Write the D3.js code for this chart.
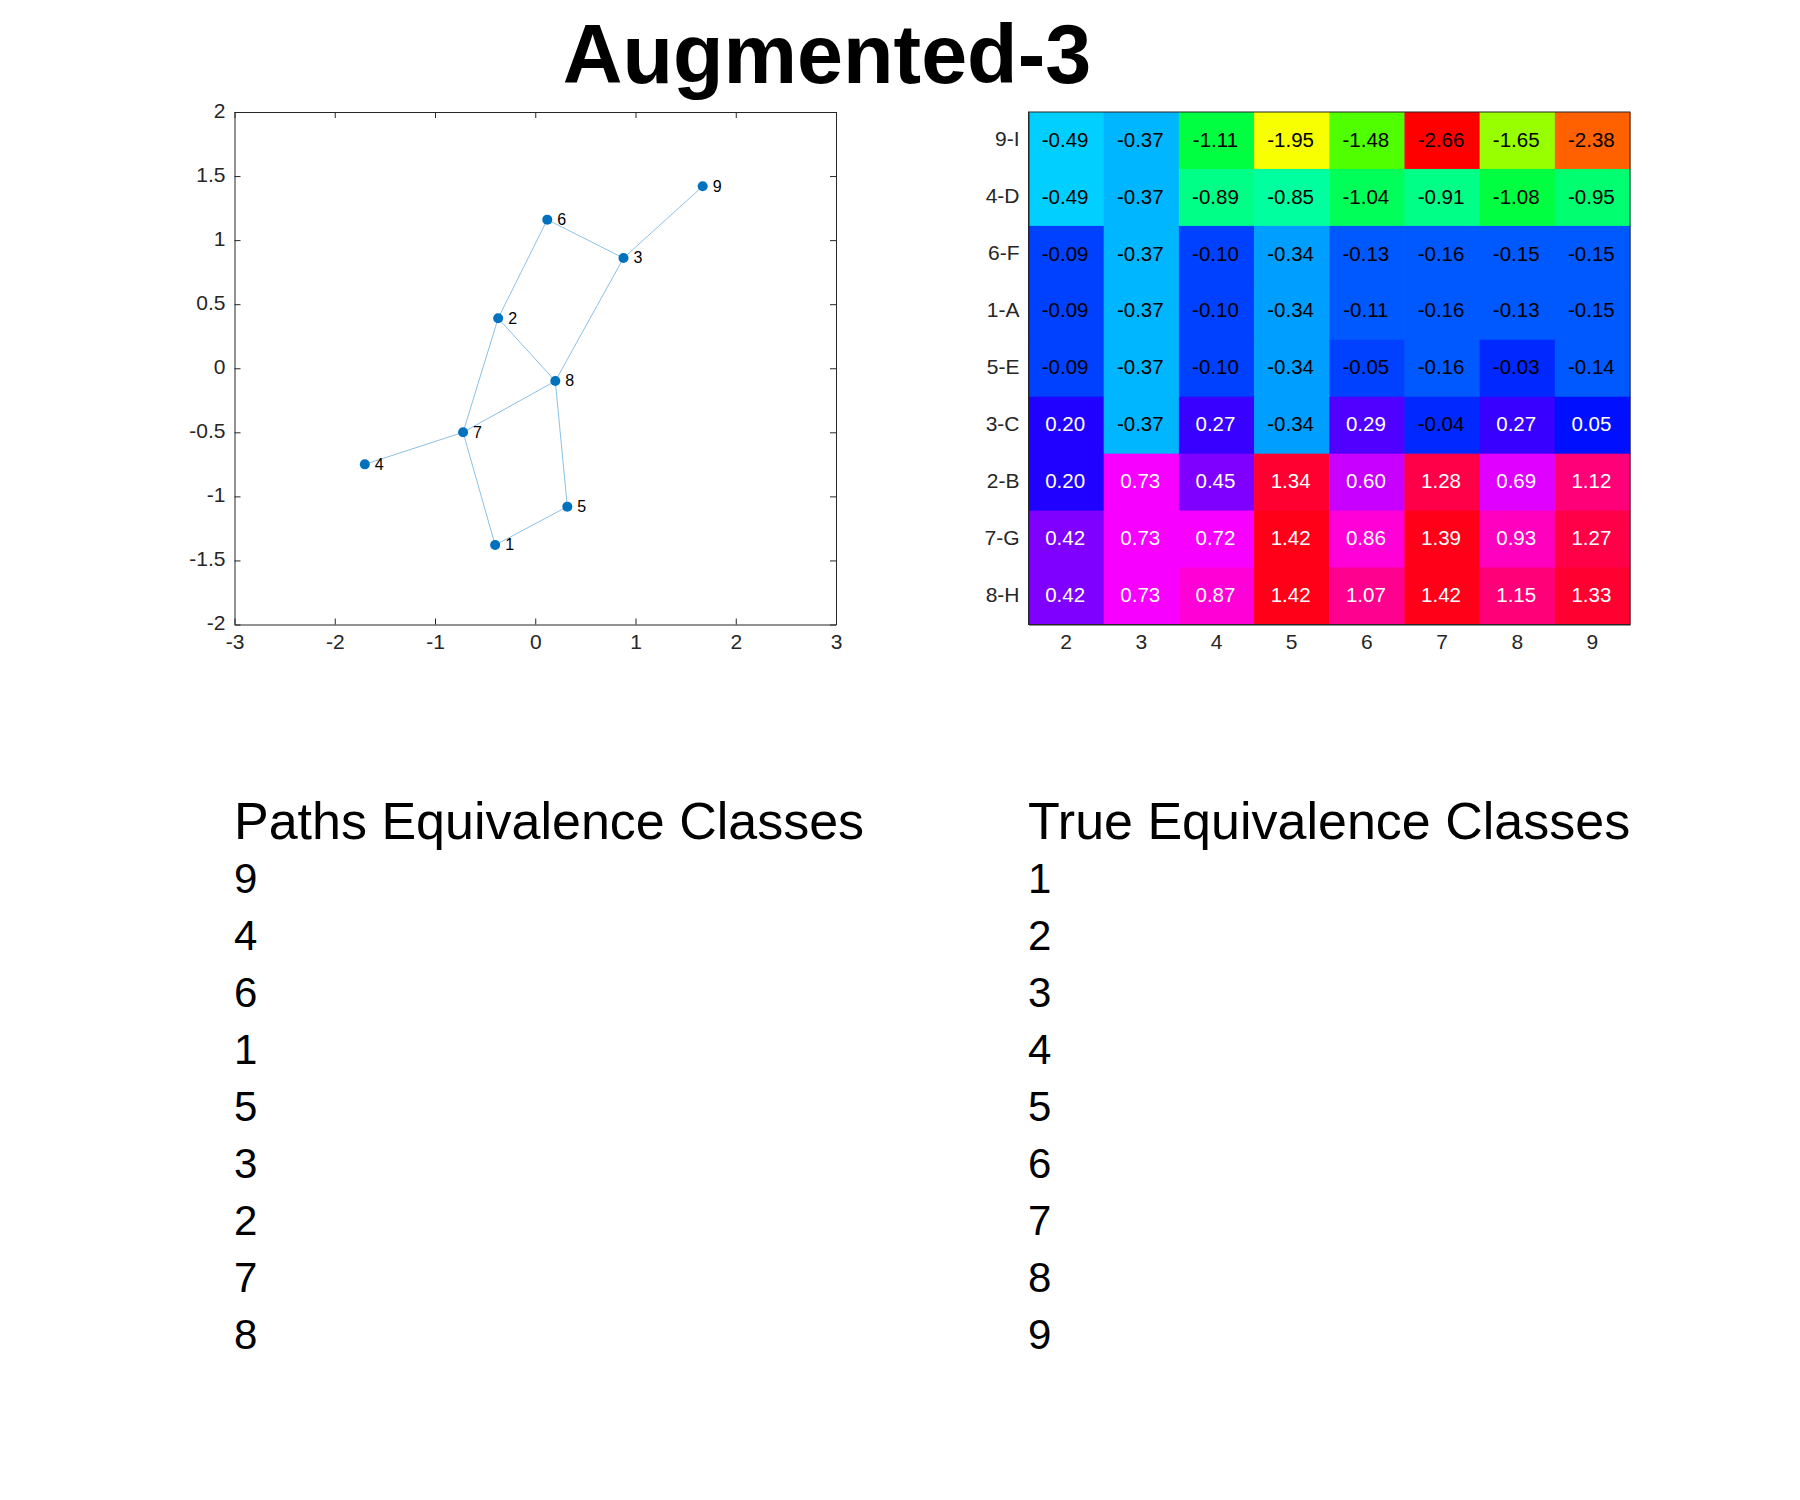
<!DOCTYPE html>
<html>
<head>
    <meta charset="utf-8">
    <title>Augmented-3</title>
    <script src="https://d3js.org/d3.v7.min.js"></script>
    <style>
        body { margin: 0; background: #fff; }
        text { font-family: "Liberation Sans", sans-serif; }
        .axis line, .axis path { stroke: #262626; stroke-width: 1; }
    </style>
</head>
<body>
    <div id="chart"></div>
    <script>
        // graph data
        const nodeIds = [1, 2, 3, 4, 5, 6, 7, 8, 9];
        const nodeX = [-0.40, -0.37, 0.88, -1.70, 0.32, 0.12, -0.72, 0.20, 1.67];
        const nodeY = [-1.38, 0.39, 0.86, -0.75, -1.08, 1.16, -0.50, -0.10, 1.42];
        const edges = [[1, 5], [1, 7], [2, 6], [2, 7], [2, 8], [3, 6], [3, 8], [3, 9], [4, 7], [5, 8], [7, 8]];
        const xTicks = [-3, -2, -1, 0, 1, 2, 3];
        const yTicks = [-2, -1.5, -1, -0.5, 0, 0.5, 1, 1.5, 2];

        // heatmap data
        const columns = [2, 3, 4, 5, 6, 7, 8, 9];
        const rows = ["9-I", "4-D", "6-F", "1-A", "5-E", "3-C", "2-B", "7-G", "8-H"];
        const cells = [
            [-0.49, -0.37, -1.11, -1.95, -1.48, -2.66, -1.65, -2.38],
            [-0.49, -0.37, -0.89, -0.85, -1.04, -0.91, -1.08, -0.95],
            [-0.09, -0.37, -0.10, -0.34, -0.13, -0.16, -0.15, -0.15],
            [-0.09, -0.37, -0.10, -0.34, -0.11, -0.16, -0.13, -0.15],
            [-0.09, -0.37, -0.10, -0.34, -0.05, -0.16, -0.03, -0.14],
            [0.20, -0.37, 0.27, -0.34, 0.29, -0.04, 0.27, 0.05],
            [0.20, 0.73, 0.45, 1.34, 0.60, 1.28, 0.69, 1.12],
            [0.42, 0.73, 0.72, 1.42, 0.86, 1.39, 0.93, 1.27],
            [0.42, 0.73, 0.87, 1.42, 1.07, 1.42, 1.15, 1.33]
        ];

        // lists under the plots
        const pathClasses = [9, 4, 6, 1, 5, 3, 2, 7, 8];
        const trueClasses = [1, 2, 3, 4, 5, 6, 7, 8, 9];

        const svg = d3.select("#chart").append("svg")
            .attr("width", 1800)
            .attr("height", 1500);

        svg.append("text")
            .attr("x", 827)
            .attr("y", 83)
            .attr("text-anchor", "middle")
            .attr("font-size", 82.7)
            .attr("font-weight", "bold")
            .text("Augmented-3");

        // Left plot
        const plot = { left: 234.5, right: 836, top: 112, bottom: 624.5 };
        const x = d3.scaleLinear().domain([-3, 3]).range([plot.left, plot.right]);
        const y = d3.scaleLinear().domain([-2, 2]).range([plot.bottom, plot.top]);

        function styleAxis(g) {
            g.attr("class", "axis");
            g.selectAll("text").attr("font-size", 21).attr("fill", "#262626");
        }

        svg.append("g").attr("transform", `translate(0,${plot.bottom})`)
            .call(d3.axisBottom(x).tickValues(xTicks).tickFormat(String).tickSize(-6).tickSizeOuter(0).tickPadding(10))
            .call(styleAxis);
        svg.append("g").attr("transform", `translate(${plot.left},0)`)
            .call(d3.axisLeft(y).tickValues(yTicks).tickFormat(String).tickSize(-6).tickSizeOuter(0).tickPadding(9))
            .call(styleAxis)
            .call(g => g.selectAll("text").attr("dy", "0.25em"));
        svg.append("g").attr("transform", `translate(0,${plot.top})`)
            .call(d3.axisTop(x).tickValues(xTicks).tickFormat("").tickSize(-6).tickSizeOuter(0))
            .call(styleAxis);
        svg.append("g").attr("transform", `translate(${plot.right},0)`)
            .call(d3.axisRight(y).tickValues(yTicks).tickFormat("").tickSize(-6).tickSizeOuter(0))
            .call(styleAxis);

        svg.append("g").selectAll("line")
            .data(edges)
            .join("line")
            .attr("x1", d => x(nodeX[d[0] - 1]))
            .attr("y1", d => y(nodeY[d[0] - 1]))
            .attr("x2", d => x(nodeX[d[1] - 1]))
            .attr("y2", d => y(nodeY[d[1] - 1]))
            .attr("stroke", "#8cc1e6")
            .attr("stroke-width", 1);

        const node = svg.append("g").selectAll("g")
            .data(nodeIds)
            .join("g")
            .attr("transform", (d, i) => `translate(${x(nodeX[i])},${y(nodeY[i])})`);
        node.append("circle").attr("r", 5).attr("fill", "#0072bd");
        node.append("text")
            .attr("x", 10)
            .attr("dy", "0.33em")
            .attr("font-size", 16)
            .text(d => d);

        // Right heatmap, 64 step hsv colormap over the range of the values
        const heat = { left: 1028.5, right: 1630, top: 112, bottom: 624.5 };
        const cx = d3.scaleBand().domain(columns).range([heat.left, heat.right]);
        const cy = d3.scaleBand().domain(rows).range([heat.top, heat.bottom]);
        const hsv64 = d3.range(64).map(i => d3.hsl(i / 64 * 360, 1, 0.5).formatHex());
        const color = d3.scaleQuantize().domain([-2.658, 1.42]).range(hsv64);

        const cellData = cells.flatMap((row, r) => row.map((v, c) => ({ v, row: rows[r], col: columns[c] })));

        svg.append("g").selectAll("rect")
            .data(cellData)
            .join("rect")
            .attr("x", d => cx(d.col))
            .attr("y", d => cy(d.row))
            .attr("width", cx.bandwidth() + 0.5)
            .attr("height", cy.bandwidth() + 0.5)
            .attr("fill", d => color(d.v));

        svg.append("g").selectAll("text")
            .data(cellData)
            .join("text")
            .attr("x", d => cx(d.col) + cx.bandwidth() / 2 - 1)
            .attr("y", d => cy(d.row) + cy.bandwidth() / 2 - 1)
            .attr("dy", "0.35em")
            .attr("text-anchor", "middle")
            .attr("font-size", 20.5)
            .attr("fill", d => d.v > 0 ? "#fff" : "#000")
            .text(d => d.v.toFixed(2));

        svg.append("g").attr("transform", `translate(0,${heat.bottom})`)
            .call(d3.axisBottom(cx).tickSize(0).tickPadding(10))
            .call(styleAxis);
        svg.append("g").attr("transform", `translate(${heat.left},0)`)
            .call(d3.axisLeft(cy).tickSize(0).tickPadding(9))
            .call(styleAxis)
            .call(g => g.selectAll("text").attr("dy", "0.28em"));
        svg.append("rect")
            .attr("x", heat.left).attr("y", heat.top)
            .attr("width", heat.right - heat.left).attr("height", heat.bottom - heat.top)
            .attr("fill", "none").attr("stroke", "#262626");

        // Class lists
        function classList(left, title, items) {
            svg.append("text").attr("x", left).attr("y", 838.5).attr("font-size", 52).text(title);
            svg.append("g").selectAll("text")
                .data(items)
                .join("text")
                .attr("x", left)
                .attr("y", (d, i) => 893 + i * 57)
                .attr("font-size", 42)
                .text(d => d);
        }
        classList(234, "Paths Equivalence Classes", pathClasses);
        classList(1028, "True Equivalence Classes", trueClasses);
    </script>
</body>
</html>
